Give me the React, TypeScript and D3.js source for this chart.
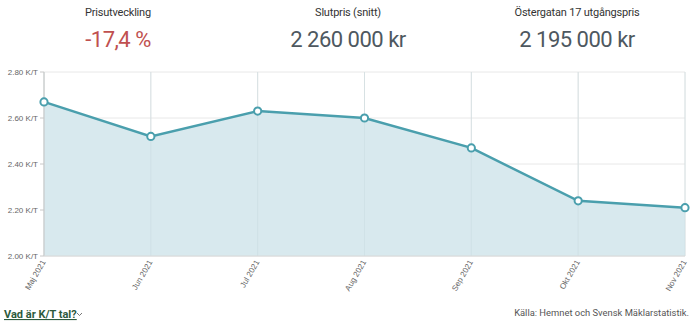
import React from "react";
import * as d3 from "d3";

// K/T-tal per månad
const months = ["Maj 2021", "Jun 2021", "Jul 2021", "Aug 2021", "Sep 2021", "Okt 2021", "Nov 2021"];
const ktValues = [2.67, 2.52, 2.63, 2.6, 2.47, 2.24, 2.21];
const yTicks = [2.0, 2.2, 2.4, 2.6, 2.8];

const headerLabels = ["Prisutveckling", "Slutpris (snitt)", "Östergatan 17 utgångspris"];
const headerValues = ["-17,4 %", "2 260 000 kr", "2 195 000 kr"];

const W = 700;
const H = 322;
const margin = { top: 72, right: 15, bottom: 66, left: 44 };

const App = () => {
  const x = d3
    .scalePoint<string>()
    .domain(months)
    .range([margin.left, W - margin.right]);

  const y = d3
    .scaleLinear()
    .domain([2.0, 2.8])
    .range([H - margin.bottom, margin.top]);

  const pts = months.map((m, i) => ({ m, v: ktValues[i] }));

  const line = d3
    .line<{ m: string; v: number }>()
    .x((d) => x(d.m)!)
    .y((d) => y(d.v));

  const area = d3
    .area<{ m: string; v: number }>()
    .x((d) => x(d.m)!)
    .y0(y(2.0))
    .y1((d) => y(d.v));

  const headerX = [118, 348, 577];

  return (
    <svg width={W} height={H} style={{ position: "absolute", left: 0, top: 0, fontFamily: "Roboto, sans-serif" }}>
      <rect width={W} height={H} fill="#fff" />

      {/* header */}
      {headerLabels.map((t, i) => (
        <g key={t}>
          <text x={headerX[i]} y={16} textAnchor="middle" fontSize={11} fill="#333" letterSpacing={-0.2}>
            {t}
          </text>
          <text
            x={headerX[i]}
            y={47}
            textAnchor="middle"
            fontSize={22}
            fill={i === 0 ? "#c0504f" : "#4e5860"}
            letterSpacing={-0.5}
          >
            {headerValues[i]}
          </text>
        </g>
      ))}

      {/* grid */}
      {yTicks.map((t) => (
        <line key={t} x1={margin.left} x2={W - margin.right} y1={y(t)} y2={y(t)} stroke="#e8e8e8" />
      ))}
      {months.map((m) => (
        <line key={m} x1={x(m)} x2={x(m)} y1={margin.top} y2={H - margin.bottom} stroke="#e6e6e6" />
      ))}

      {/* area + line */}
      <path d={area(pts)!} fill="#d8e9ee" />
      {months.map((m) => (
        <line key={"g" + m} x1={x(m)} x2={x(m)} y1={margin.top} y2={H - margin.bottom} stroke="#c8dbe0" strokeOpacity={0.5} />
      ))}
      <line x1={margin.left} x2={margin.left} y1={margin.top} y2={H - margin.bottom} stroke="#c8c8c8" />
      <line x1={margin.left} x2={W - margin.right} y1={H - margin.bottom} y2={H - margin.bottom} stroke="#d8d8d8" />
      <path d={line(pts)!} fill="none" stroke="#4a9fad" strokeWidth={2.5} />
      {pts.map((d) => (
        <circle key={d.m} cx={x(d.m)} cy={y(d.v)} r={3.6} fill="#fff" stroke="#4a9fad" strokeWidth={2} />
      ))}

      {/* y axis labels */}
      {yTicks.map((t) => (
        <g key={"yl" + t}>
          <line x1={margin.left - 4} x2={margin.left} y1={y(t)} y2={y(t)} stroke="#c8c8c8" />
          <text x={margin.left - 6} y={y(t) + 3} textAnchor="end" fontSize={8} fill="#666" fontFamily="Arial, Liberation Sans, sans-serif">
            {d3.format(".2f")(t)} K/T
          </text>
        </g>
      ))}

      {/* x axis labels */}
      {months.map((m) => (
        <text
          key={"xl" + m}
          transform={`translate(${x(m)! + 2},${H - margin.bottom + 6}) rotate(-60)`}
          textAnchor="end"
          fontSize={8}
          fill="#666"
          fontFamily="Arial, Liberation Sans, sans-serif"
        >
          {m}
        </text>
      ))}

      {/* footer */}
      <text x={4} y={318} fontSize={11} fontWeight="bold" fill="#2d5a3c" textDecoration="underline">
        Vad är K/T tal?
      </text>
      <path d="M77,313 l2.5,2.5 l2.5,-2.5" fill="none" stroke="#555" strokeWidth={0.8} />
      <text x={689} y={316} textAnchor="end" fontSize={9.4} fill="#555">
        Källa: Hemnet och Svensk Mäklarstatistik.
      </text>
    </svg>
  );
};

export default App;
